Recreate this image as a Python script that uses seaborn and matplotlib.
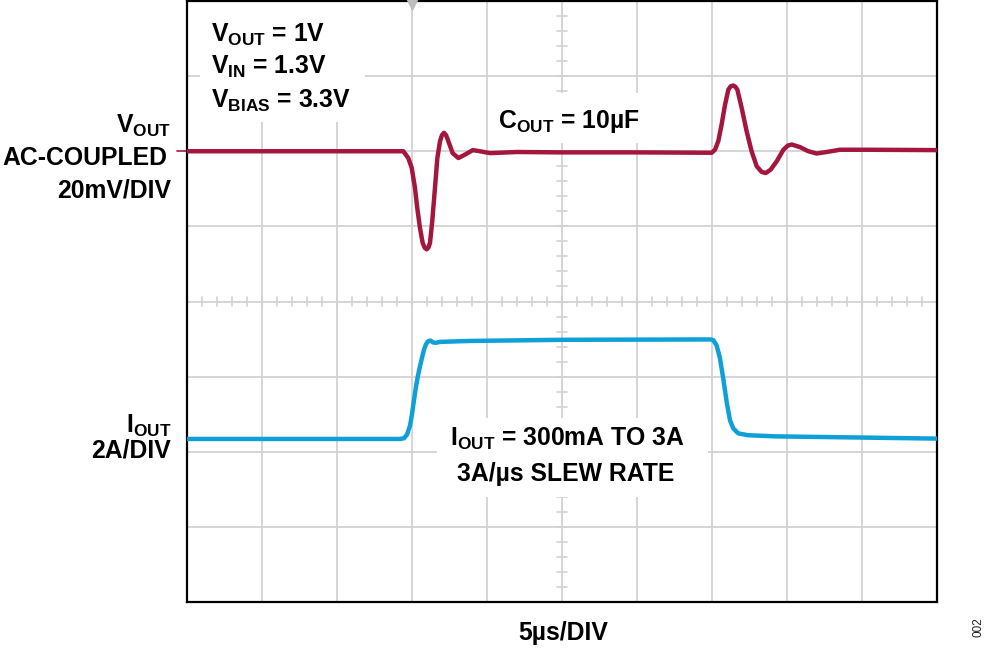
import numpy as np
import pandas as pd
import matplotlib
matplotlib.use('Agg')
import matplotlib.pyplot as plt
from matplotlib.patches import Rectangle
import seaborn as sns

# --- data (time in us, 5us/div) ---
vout_t = [0.0, 5.0, 10.0, 14.0, 14.42, 14.75, 14.98, 15.2, 15.35, 15.53, 15.71,
          15.85, 15.98, 16.1, 16.2, 16.35, 16.53, 16.69, 16.87, 17.0, 17.13, 17.27,
          17.42, 17.71, 18.09, 18.53, 19.05, 19.53, 20.2, 22.0, 25.0, 30.0,
          34.98, 35.2, 35.42, 35.64, 35.87, 36.09, 36.25, 36.42, 36.55, 36.69,
          36.98, 37.31, 37.64, 37.98, 38.31, 38.58, 38.91, 39.31, 39.76, 40.05,
          40.31, 40.87, 41.42, 41.98, 42.64, 43.53, 45.3, 50.0]
vout_mv = [0.0, 0.0, 0.0, 0.0, 0.0, -1.8, -4.4, -9.8, -15.1, -20.4, -24.4,
           -25.7, -26.1, -25.6, -24.4, -18.6, -9.8, -1.8, 2.7, 4.3, 4.9, 4.3,
           2.7, -0.5, -1.8, -0.9, 0.3, 0.0, -0.5, -0.2, -0.3, -0.3,
           -0.4, 0.4, 2.7, 7.1, 12.4, 16.4, 17.3, 17.5, 17.2, 16.4,
           11.5, 5.3, 0.0, -4.0, -5.5, -5.8, -4.9, -2.7, 0.4, 1.5,
           1.8, 1.1, 0.0, -0.6, -0.2, 0.4, 0.4, 0.3]

iout_t = [0.0, 5.0, 10.0, 14.2, 14.47, 14.67, 14.87, 15.0, 15.13, 15.27, 15.4, 15.53,
          15.67, 15.8, 15.93, 16.07, 16.23, 16.4, 16.6, 16.87, 18.87, 25.0, 34.9,
          35.09, 35.31, 35.53, 35.75, 35.98, 36.2, 36.42, 36.75, 37.4, 39.2, 50.0]
iout_a = [0.30, 0.30, 0.30, 0.30, 0.32, 0.42, 0.66, 0.96, 1.33, 1.70, 1.99, 2.23,
          2.47, 2.68, 2.82, 2.90, 2.92, 2.87, 2.86, 2.885, 2.91, 2.94, 2.95,
          2.93, 2.79, 2.45, 1.91, 1.28, 0.80, 0.58, 0.45, 0.40, 0.37, 0.31]

VOUT_OFFSET = 6.0    # divisions
IOUT_OFFSET = 2.02
MV_PER_DIV = 20.0
A_PER_DIV = 2.0

red = '#A3173F'
blue = '#0FA0D7'
grid_c = '#D2D2D2'

vout = pd.DataFrame({'t': vout_t, 'div': VOUT_OFFSET + np.array(vout_mv) / MV_PER_DIV})
iout = pd.DataFrame({'t': iout_t, 'div': IOUT_OFFSET + np.array(iout_a) / A_PER_DIV})

sns.set_style('white')
plt.rcParams['font.family'] = ['Liberation Sans', 'DejaVu Sans']
plt.rcParams['font.weight'] = 'bold'
plt.rcParams['text.color'] = 'black'
plt.rcParams['mathtext.fontset'] = 'custom'
plt.rcParams['mathtext.rm'] = 'Liberation Sans:bold'
plt.rcParams['mathtext.it'] = 'Liberation Sans:bold'
plt.rcParams['mathtext.bf'] = 'Liberation Sans:bold'
plt.rcParams['mathtext.default'] = 'rm'

W, H = 985, 652
fig = plt.figure(figsize=(W / 100, H / 100), dpi=100)
L, R, T, B = 187, 937, 1, 602
ax = fig.add_axes([L / W, (H - B) / H, (R - L) / W, (B - T) / H])
ax.set_xlim(0, 50)
ax.set_ylim(0, 8)

# grid 10 x 8 divisions
ax.set_xticks(np.arange(0, 51, 5))
ax.set_yticks(np.arange(0, 9, 1))
ax.tick_params(length=0, labelbottom=False, labelleft=False)
ax.grid(True, color=grid_c, lw=1.3)
ax.set_axisbelow(True)
for s in ax.spines.values():
    s.set_color('black')
    s.set_linewidth(1.6)

# minor ticks on centre lines
for x in np.arange(1, 50, 1):
    ax.plot([x, x], [4 - 0.055, 4 + 0.055], color=grid_c, lw=1.2, zorder=0.6)
for y in np.arange(0.2, 8, 0.2):
    ax.plot([25 - 0.33, 25 + 0.33], [y, y], color=grid_c, lw=1.2, zorder=0.6)


def px(x, y):
    return (x - L) / 15.0, (B - y) / ((B - T) / 8.0)


# white boxes behind the annotations
for (x0, y0, x1, y1) in [(200, 0, 365, 122), (490, 93, 655, 143), (437, 418, 708, 497)]:
    a0, b1 = px(x0, y0)
    a1, b0 = px(x1, y1)
    ax.add_patch(Rectangle((a0, b0), a1 - a0, b1 - b0, facecolor='white',
                           edgecolor='none', zorder=1))

sns.lineplot(data=vout, x='t', y='div', ax=ax, color=red, lw=3.2, estimator=None,
             sort=False, zorder=3)
sns.lineplot(data=iout, x='t', y='div', ax=ax, color=blue, lw=3.2, estimator=None,
             sort=False, zorder=3)
for ln in ax.lines[-2:]:
    ln.set_solid_joinstyle('round')
ax.set_xlabel('')
ax.set_ylabel('')

# channel marker and trigger marker
ax.plot([-0.7, 0], [VOUT_OFFSET, VOUT_OFFSET], color=red, lw=1.2, clip_on=False)
tx, ty = px(412, 5)
ax.plot(tx, ty, marker='v', ms=9, color='#BDBDBD', mec='none', clip_on=False, zorder=4)

fs = 17.8


def ftext(x, y, s, **kw):
    fig.text(x / W, 1 - y / H, s, fontsize=fs, fontweight='bold', va='baseline',
             color='black', **kw)


ftext(211, 42, r'$V_{OUT}$ = 1V')
ftext(211, 74, r'$V_{IN}$ = 1.3V')
ftext(211, 108, r'$V_{BIAS}$ = 3.3V')
ftext(498, 128, r'$C_{OUT}$ = 10µF')
ftext(450, 446, r'$I_{OUT}$ = 300mA TO 3A')
ftext(566, 481, '3A/µs SLEW RATE', ha='center')

ftext(171, 133, r'$V_{OUT}$', ha='right')
ftext(167, 165, 'AC-COUPLED', ha='right')
ftext(171, 198, '20mV/DIV', ha='right')
ftext(171, 433, r'$I_{OUT}$', ha='right')
ftext(171, 457, '2A/DIV', ha='right')
ftext(563, 640, '5µs/DIV', ha='center')

fig.text(979 / W, 1 - 627 / H, '002', fontsize=8.5, fontweight='normal',
         rotation=90, ha='center', va='center', color='#222222')

fig.savefig('out.png', dpi=100)
